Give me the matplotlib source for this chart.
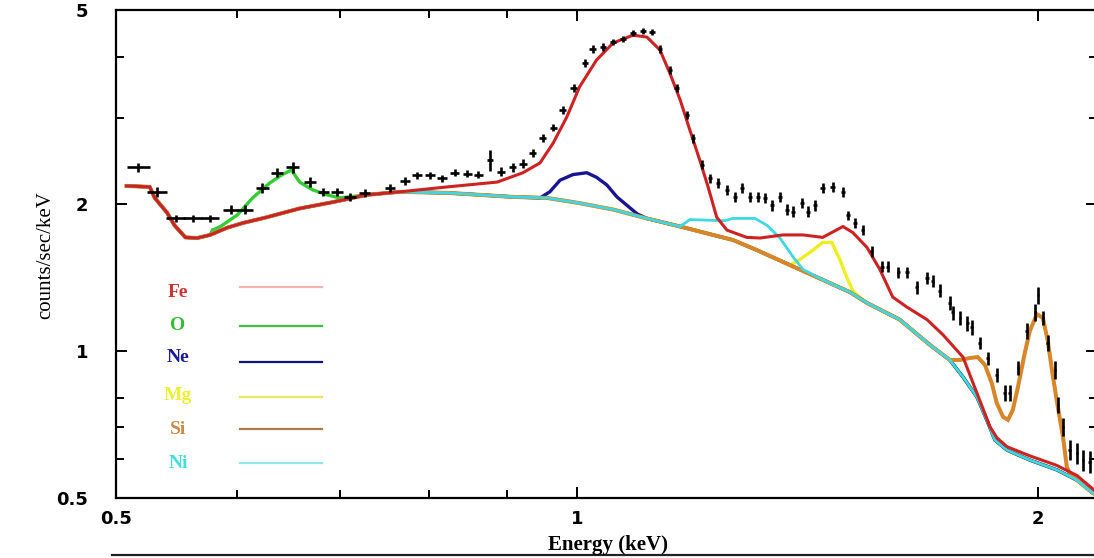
import matplotlib
matplotlib.use("Agg")
import matplotlib.pyplot as plt
import numpy as np
from matplotlib.lines import Line2D
from matplotlib.ticker import FixedLocator, FixedFormatter, NullFormatter

# ---- observed spectrum (energy in keV, rate in counts/sec/keV) ----
e_data = [0.517, 0.532, 0.547, 0.561, 0.576, 0.594, 0.607, 0.623, 0.637, 0.652,
          0.669, 0.683, 0.697, 0.711, 0.727, 0.755, 0.772, 0.786, 0.802, 0.816,
          0.832, 0.848, 0.862, 0.877, 0.892, 0.908, 0.922, 0.936, 0.950, 0.965,
          0.979, 0.995, 1.012, 1.024, 1.040, 1.056, 1.072, 1.088, 1.104, 1.119,
          1.133, 1.150, 1.162, 1.180, 1.191, 1.207, 1.221, 1.236, 1.253, 1.268,
          1.282, 1.297, 1.313, 1.327, 1.341, 1.357, 1.371, 1.384, 1.402, 1.415,
          1.430, 1.447, 1.469, 1.492, 1.503, 1.519, 1.537, 1.558, 1.582, 1.596,
          1.621, 1.643, 1.667, 1.693, 1.708, 1.726, 1.752, 1.760, 1.779, 1.798,
          1.811, 1.833, 1.855, 1.880, 1.903, 1.917, 1.941, 1.967, 1.991, 2.000,
          2.015, 2.030, 2.052, 2.061, 2.077, 2.098, 2.121, 2.140, 2.162]
rate = [2.38, 2.12, 1.87, 1.87, 1.87, 1.95, 1.95, 2.16, 2.32, 2.38,
        2.22, 2.12, 2.12, 2.07, 2.11, 2.16, 2.23, 2.29, 2.29, 2.26,
        2.32, 2.31, 2.30, 2.46, 2.33, 2.38, 2.42, 2.55, 2.73, 2.87,
        3.12, 3.46, 3.89, 4.16, 4.20, 4.30, 4.36, 4.49, 4.53, 4.51,
        4.16, 3.77, 3.46, 3.05, 2.73, 2.41, 2.26, 2.21, 2.14, 2.07,
        2.16, 2.07, 2.07, 2.06, 1.99, 2.07, 1.95, 1.93, 2.01, 1.93,
        1.99, 2.16, 2.17, 2.12, 1.90, 1.83, 1.77, 1.60, 1.49, 1.49,
        1.45, 1.45, 1.35, 1.41, 1.39, 1.33, 1.255, 1.20, 1.17, 1.14,
        1.12, 1.04, 0.968, 0.894, 0.821, 0.821, 0.924, 1.10, 1.20, 1.30,
        1.17, 1.04, 0.915, 0.776, 0.699, 0.627, 0.618, 0.598, 0.593]
e_halfwidth = [0.009, 0.008, 0.008, 0.008, 0.008, 0.007, 0.007, 0.006, 0.006, 0.006,
               0.006, 0.006, 0.006, 0.006, 0.006, 0.006, 0.006, 0.006, 0.006, 0.006,
               0.006, 0.006, 0.006, 0.004, 0.005, 0.005, 0.005, 0.005, 0.005, 0.005,
               0.005, 0.005, 0.005, 0.005, 0.005, 0.005, 0.005, 0.005, 0.005, 0.005,
               0.004, 0.004, 0.004, 0.004, 0.004, 0.004, 0.004, 0.004, 0.004, 0.004,
               0.004, 0.004, 0.004, 0.004, 0.004, 0.004, 0.004, 0.004, 0.004, 0.004,
               0.004, 0.005, 0.005, 0.005, 0.004, 0.004, 0.004, 0.004, 0.004, 0.004,
               0.004, 0.004, 0.004, 0.004, 0.004, 0.004, 0.004, 0.004, 0.004, 0.004,
               0.004, 0.004, 0.004, 0.004, 0.004, 0.004, 0.004, 0.004, 0.004, 0.003,
               0.004, 0.004, 0.004, 0.004, 0.004, 0.004, 0.004, 0.004, 0.004]
rate_err = [0.05, 0.05, 0.03, 0.03, 0.03, 0.04, 0.04, 0.05, 0.05, 0.06,
            0.05, 0.04, 0.04, 0.04, 0.04, 0.04, 0.04, 0.04, 0.04, 0.04,
            0.04, 0.04, 0.04, 0.12, 0.05, 0.05, 0.05, 0.05, 0.05, 0.05,
            0.06, 0.06, 0.07, 0.07, 0.07, 0.07, 0.07, 0.07, 0.07, 0.07,
            0.07, 0.07, 0.06, 0.06, 0.06, 0.05, 0.05, 0.05, 0.05, 0.05,
            0.05, 0.05, 0.05, 0.05, 0.05, 0.05, 0.05, 0.05, 0.05, 0.05,
            0.05, 0.05, 0.05, 0.05, 0.04, 0.04, 0.04, 0.04, 0.04, 0.04,
            0.04, 0.04, 0.04, 0.04, 0.04, 0.04, 0.04, 0.04, 0.04, 0.04,
            0.04, 0.03, 0.03, 0.03, 0.03, 0.03, 0.03, 0.04, 0.05, 0.05,
            0.04, 0.04, 0.04, 0.03, 0.03, 0.03, 0.03, 0.03, 0.03]

# ---- continuum model ----
e_cont = [0.508, 0.526, 0.530, 0.540, 0.546, 0.555, 0.565, 0.576, 0.591, 0.605,
          0.627, 0.659, 0.693, 0.729, 0.766, 0.823, 0.908, 0.956, 1.004, 1.056,
          1.111, 1.168, 1.227, 1.264, 1.311, 1.378, 1.447, 1.508, 1.547, 1.625,
          1.700, 1.752, 1.787, 1.825, 1.852, 1.875, 1.909, 1.976, 2.058, 2.121,
          2.172, 2.190]
cont = [2.18, 2.17, 2.06, 1.92, 1.81, 1.71, 1.705, 1.73, 1.79, 1.83,
        1.88, 1.96, 2.02, 2.09, 2.12, 2.11, 2.07, 2.06, 2.01, 1.95,
        1.87, 1.80, 1.73, 1.69, 1.61, 1.50, 1.40, 1.32, 1.255, 1.16,
        1.03, 0.959, 0.885, 0.805, 0.723, 0.657, 0.627, 0.598, 0.571, 0.544,
        0.512, 0.505]

# ---- continuum + line emission of each element (only where it departs) ----
e_fe = [0.766, 0.823, 0.887, 0.922, 0.946, 0.965, 0.985, 1.004, 1.030, 1.056,
        1.088, 1.111, 1.133, 1.150, 1.168, 1.185, 1.203, 1.218, 1.234, 1.253,
        1.291, 1.317, 1.363, 1.405, 1.447, 1.492, 1.514, 1.547, 1.577, 1.608,
        1.643, 1.693, 1.734, 1.765, 1.787, 1.825, 1.861, 1.880, 1.909, 1.976,
        2.058, 2.121, 2.172, 2.190]
fe = [2.12, 2.17, 2.22, 2.32, 2.43, 2.67, 3.02, 3.48, 3.95, 4.28,
      4.44, 4.40, 4.14, 3.71, 3.27, 2.84, 2.46, 2.17, 1.88, 1.77,
      1.71, 1.705, 1.73, 1.73, 1.71, 1.80, 1.75, 1.63, 1.47, 1.29,
      1.23, 1.16, 1.08, 1.015, 0.972, 0.82, 0.70, 0.665, 0.637, 0.610,
      0.583, 0.556, 0.522, 0.512]

e_o = [0.578, 0.585, 0.600, 0.614, 0.630, 0.642, 0.651, 0.659, 0.672, 0.687, 0.700]
o = [1.77, 1.80, 1.90, 2.06, 2.21, 2.30, 2.35, 2.22, 2.14, 2.09, 2.06]

e_ne = [0.946, 0.960, 0.975, 0.994, 1.015, 1.030, 1.046, 1.062, 1.078, 1.095]
ne = [2.06, 2.12, 2.24, 2.30, 2.32, 2.27, 2.19, 2.07, 1.99, 1.91]

e_mg = [1.378, 1.398, 1.426, 1.447, 1.467, 1.485, 1.500, 1.514, 1.530]
mg = [1.50, 1.54, 1.61, 1.67, 1.67, 1.54, 1.42, 1.33, 1.29]

e_si = [1.752, 1.779, 1.806, 1.827, 1.847, 1.866, 1.880, 1.898, 1.912, 1.926,
        1.941, 1.961, 1.976, 1.997, 2.015, 2.030, 2.046, 2.061, 2.077, 2.089, 2.098]
si = [0.959, 0.959, 0.968, 0.972, 0.937, 0.860, 0.783, 0.733, 0.723, 0.757,
      0.844, 0.991, 1.10, 1.19, 1.17, 1.05, 0.885, 0.768, 0.667, 0.579, 0.563]

e_ni = [1.168, 1.185, 1.249, 1.264, 1.307, 1.331, 1.357, 1.384, 1.405, 1.447]
ni = [1.80, 1.86, 1.85, 1.87, 1.87, 1.81, 1.705, 1.56, 1.47, 1.40]

elements = ["Fe", "O", "Ne", "Mg", "Si", "Ni"]


def with_continuum(e_seg, v_seg):
    """Continuum outside the segment, element model inside it."""
    ec = np.asarray(e_cont)
    vc = np.asarray(cont)
    lo = ec < e_seg[0]
    hi = ec > e_seg[-1]
    e = np.concatenate([ec[lo], e_seg, ec[hi]])
    v = np.concatenate([vc[lo], v_seg, vc[hi]])
    return e, v


W, H = 1094, 558
fig = plt.figure(figsize=(W / 100, H / 100), dpi=100)


def fx(px):
    return px / W


def fy(py):
    return 1 - py / H


ax = fig.add_axes([fx(116), fy(498), fx(1097) - fx(116), fy(10) - fy(498)])
ax.set_xscale("log")
ax.set_yscale("log")
ax.set_xlim(0.5, 2.186)
ax.set_ylim(0.5, 5.0)

line_col = {"Fe": "#cc2222", "O": "#33cc33", "Ne": "#161690", "Mg": "#eeee22",
            "Si": "#d8862a", "Ni": "#3fd8e2"}
segments = {"Fe": (e_fe, fe), "O": (e_o, o), "Ne": (e_ne, ne), "Mg": (e_mg, mg),
            "Si": (e_si, si), "Ni": (e_ni, ni)}
# drawing order and widths: wider curves underneath show as coloured fringes
draw_order = [("O", 2.4), ("Mg", 2.4), ("Ne", 2.4), ("Si", 2.9), ("Ni", 2.0), ("Fe", 2.2)]

for name, lw in draw_order:
    e, v = with_continuum(*segments[name])
    ax.plot(e, v, color=line_col[name], lw=lw, solid_joinstyle="miter", zorder=3)

ax.errorbar(e_data, rate, xerr=e_halfwidth, yerr=rate_err, fmt="none",
            ecolor="black", elinewidth=1.9, capsize=0, zorder=5)

# axes frame and ticks
for s in ["left", "bottom", "top"]:
    ax.spines[s].set_linewidth(1.6)
ax.spines["right"].set_visible(False)

ax.xaxis.set_major_locator(FixedLocator([0.5, 1, 2]))
ax.xaxis.set_major_formatter(FixedFormatter(["0.5", "1", "2"]))
ax.xaxis.set_minor_locator(FixedLocator([0.6, 0.7, 0.8, 0.9]))
ax.xaxis.set_minor_formatter(NullFormatter())
ax.yaxis.set_major_locator(FixedLocator([0.5, 1, 2, 5]))
ax.yaxis.set_major_formatter(FixedFormatter(["0.5", "1", "2", "5"]))
ax.yaxis.set_minor_locator(FixedLocator([0.6, 0.7, 0.8, 3, 4]))
ax.yaxis.set_minor_formatter(NullFormatter())

ax.tick_params(which="both", direction="in", top=True, right=True, width=1.4,
               labelsize=13)
ax.tick_params(which="major", length=8)
ax.tick_params(which="minor", length=6)
ax.tick_params(axis="y", pad=20)
ax.tick_params(axis="x", pad=9)
for lab in ax.get_xticklabels() + ax.get_yticklabels():
    lab.set_fontweight("bold")
    lab.set_family("DejaVu Sans")

fig.text(fx(46), fy(255), "counts/sec/keV", rotation=90, ha="center", va="center",
         fontsize=15, family="Liberation Serif")
fig.text(fx(608), fy(545), "Energy (keV)", ha="center", va="center",
         fontsize=15, family="Liberation Serif", fontweight="bold")
fig.add_artist(Line2D([fx(112), 1.0], [fy(555), fy(555)], color="#222222", lw=1.6))

# element key
text_col = {"Fe": "#cc3333", "O": "#33bb33", "Ne": "#1a1a99", "Mg": "#eeee33",
            "Si": "#c98a48", "Ni": "#44dddd"}
key_line_col = {"Fe": "#f4b4b4", "O": "#3fbf3f", "Ne": "#141478", "Mg": "#e8e860",
                "Si": "#b07a48", "Ni": "#90e8ee"}
key_text_y = [292, 325, 358, 395, 430, 463]
key_line_y = [287, 326, 362, 397, 429, 463]
for name, ty, ly in zip(elements, key_text_y, key_line_y):
    fig.text(fx(178), fy(ty), name, color=text_col[name], ha="center", va="center",
             fontsize=14, family="Liberation Serif", fontweight="bold")
    fig.add_artist(Line2D([fx(240), fx(322)], [fy(ly), fy(ly)],
                          color=key_line_col[name], lw=1.6))

fig.savefig("out.png", dpi=100)
